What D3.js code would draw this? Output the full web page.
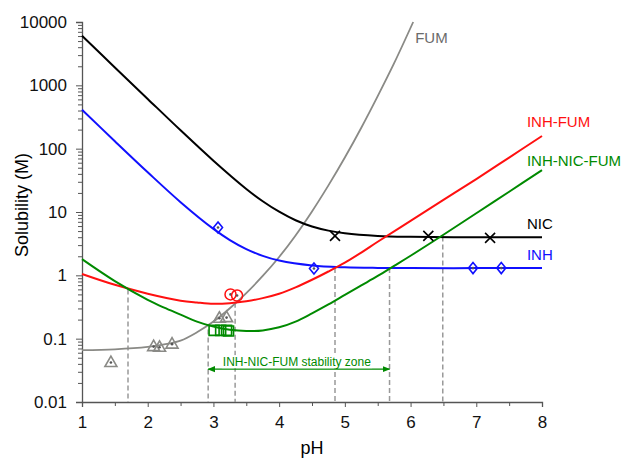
<!DOCTYPE html>
<html>
<head>
<meta charset="utf-8">
<script src="https://cdn.jsdelivr.net/npm/d3@7"></script>
<style>
  body { margin: 0; background: #fff; }
  svg { font-family: "Liberation Sans", Arial, sans-serif; }
</style>
</head>
<body>
<div id="chart"></div>
<script>
// curve values (pH, solubility in M)
const nicPH  = [1, 1.5, 2, 2.5, 3, 3.5, 3.75, 4, 4.25, 4.5, 4.75, 5, 5.5, 6, 7, 8];
const nicS   = [6060, 1918, 610, 195, 64.5, 23.1, 14.8, 10.1, 7.4, 5.9, 5.08, 4.6, 4.19, 4.06, 4.0, 4.0];
const inhPH  = [1, 1.5, 2, 2.5, 3, 3.25, 3.5, 3.75, 4, 4.5, 5, 5.5, 6, 7, 8];
const inhS   = [412, 131, 42.4, 14.3, 5.41, 3.61, 2.6, 2.03, 1.71, 1.43, 1.34, 1.31, 1.30, 1.3, 1.3];
const fumPH  = [1, 1.5, 2, 2.25, 2.5, 2.75, 3, 3.25, 3.5, 3.75, 4, 4.25, 4.5, 4.75, 5, 5.25, 5.5, 5.75, 6.04];
const fumS   = [0.066, 0.068, 0.074, 0.081, 0.093, 0.126, 0.186, 0.302, 0.525, 0.977, 1.95, 4.27, 10.2, 26.3, 72.4, 214, 676, 2239, 10000];
const ifPH   = [1, 1.5, 2, 2.5, 2.75, 3, 3.25, 3.5, 3.75, 4, 4.25, 4.5, 4.75, 5, 5.25, 5.5, 6, 6.5, 7, 7.5, 8];
const ifS    = [1.05, 0.708, 0.513, 0.398, 0.372, 0.355, 0.363, 0.389, 0.437, 0.513, 0.646, 0.851, 1.15, 1.585, 2.29, 3.39, 7.24, 15.5, 33.1, 72.4, 158.5];
const infPH  = [1, 1.5, 2, 2.25, 2.5, 2.75, 3, 3.25, 3.5, 3.75, 4, 4.25, 4.5, 4.75, 5, 5.25, 5.5, 5.75, 6, 6.5, 7, 7.5, 8];
const infS   = [1.8, 0.81, 0.41, 0.309, 0.24, 0.186, 0.155, 0.138, 0.132, 0.135, 0.151, 0.186, 0.251, 0.347, 0.49, 0.692, 0.977, 1.41, 2.04, 4.37, 9.55, 20.9, 45.7];

// measured points
const fumPts = [[1.44, 0.042], [2.09, 0.075], [2.18, 0.073], [2.37, 0.082], [3.09, 0.21], [3.2, 0.215]];
const inhPts = [[3.07, 5.7], [4.53, 1.28], [6.95, 1.3], [7.38, 1.3]];
const nicPts = [[4.85, 4.2], [6.27, 4.2], [7.21, 3.9]];
const ifPts  = [[3.26, 0.50], [3.36, 0.48]];
const infPts = [[3.01, 0.135], [3.11, 0.135], [3.2, 0.135], [3.23, 0.132]];

// dashed guide lines: pH and value where they start
const guidePH = [1.7, 2.92, 3.33, 4.85, 5.68, 6.49];
const guideS  = [0.6, 0.14, 0.37, 1.3, 1.3, 4.1];
const zonePH  = [2.92, 5.68];
const zoneLabel = "INH-NIC-FUM stability zone";

const yTicks = [0.01, 0.1, 1, 10, 100, 1000, 10000];
const xTicks = [1, 2, 3, 4, 5, 6, 7, 8];

const margin = { top: 22, right: 84, bottom: 56, left: 82 };
const width = 626 - margin.left - margin.right,
      height = 458 - margin.top - margin.bottom;

const svg = d3.select("#chart").append("svg")
    .attr("width", 626)
    .attr("height", 458)
  .append("g")
    .attr("transform", `translate(${margin.left},${margin.top})`);

const x = d3.scaleLinear().domain([1, 8]).range([0, width]);
const y = d3.scaleLog().domain([0.01, 10000]).range([height, 0]);

// y axis, major + minor ticks
const yMinor = [];
yTicks.slice(0, -1).forEach(t => { for (let k = 2; k <= 9; k++) yMinor.push(t * k); });

svg.append("g")
    .call(d3.axisLeft(y).tickValues(yMinor).tickSize(4).tickFormat(""))
    .call(g => g.select(".domain").remove())
    .selectAll("line").attr("stroke", "#555");

const yAxis = svg.append("g")
    .call(d3.axisLeft(y).tickValues(yTicks).tickSize(6).tickPadding(9)
      .tickFormat(d => d >= 1 ? d3.format("d")(d) : String(d)));
yAxis.select(".domain").attr("stroke", "#555").attr("stroke-width", 1.3);
yAxis.selectAll("line").attr("stroke", "#555");
yAxis.selectAll("text").attr("font-size", 17).attr("fill", "#111");

// x axis
const xMinor = d3.range(1.5, 8, 1);
svg.append("g")
    .attr("transform", `translate(0,${height})`)
    .call(d3.axisBottom(x).tickValues(xMinor).tickSize(4).tickFormat(""))
    .call(g => g.select(".domain").remove())
    .selectAll("line").attr("stroke", "#555");

const xAxis = svg.append("g")
    .attr("transform", `translate(0,${height})`)
    .call(d3.axisBottom(x).tickValues(xTicks).tickSize(5).tickPadding(9).tickFormat(d3.format("d")));
xAxis.select(".domain").attr("stroke", "#555").attr("stroke-width", 1.3);
xAxis.selectAll("line").attr("stroke", "#555");
xAxis.selectAll("text").attr("font-size", 17).attr("fill", "#111");

// axis titles
svg.append("text")
    .attr("x", width / 2)
    .attr("y", height + 52)
    .attr("text-anchor", "middle")
    .attr("font-size", 18)
    .text("pH");

svg.append("text")
    .attr("transform", `translate(${-54},${height / 2 - 7}) rotate(-90)`)
    .attr("text-anchor", "middle")
    .attr("font-size", 18)
    .text("Solubility (M)");

// dashed guides
guidePH.forEach((p, i) => {
  svg.append("line")
      .attr("x1", x(p)).attr("x2", x(p))
      .attr("y1", y(guideS[i])).attr("y2", height)
      .attr("stroke", "#999")
      .attr("stroke-width", 1.5)
      .attr("stroke-dasharray", "5,3");
});

// stability zone arrow + label
const green = "#008a00";
const zoneY = y(0.033);
const defs = svg.append("defs");
defs.append("marker")
    .attr("id", "arr")
    .attr("viewBox", "0 0 10 10")
    .attr("refX", 9).attr("refY", 5)
    .attr("markerWidth", 6).attr("markerHeight", 6)
    .attr("orient", "auto-start-reverse")
  .append("path")
    .attr("d", "M0,1L10,5L0,9Z")
    .attr("fill", green);

svg.append("line")
    .attr("x1", x(zonePH[0])).attr("x2", x(zonePH[1]))
    .attr("y1", zoneY).attr("y2", zoneY)
    .attr("stroke", green)
    .attr("stroke-width", 1.3)
    .attr("marker-start", "url(#arr)")
    .attr("marker-end", "url(#arr)");

const zoneText = svg.append("text")
    .attr("x", (x(zonePH[0]) + x(zonePH[1])) / 2 - 2)
    .attr("y", zoneY - 3)
    .attr("text-anchor", "middle")
    .attr("font-size", 12)
    .attr("fill", green)
    .text(zoneLabel);
const bb = zoneText.node().getBBox();
svg.insert("rect", () => zoneText.node())
    .attr("x", bb.x - 1).attr("y", bb.y)
    .attr("width", bb.width + 2).attr("height", bb.height - 1)
    .attr("fill", "#fff");

// curves
const line = d3.line()
    .x(d => x(d[0]))
    .y(d => y(d[1]))
    .curve(d3.curveCatmullRom.alpha(0.5));

const curves = [
  { ph: fumPH, s: fumS, color: "#8a8a86", w: 1.8 },
  { ph: nicPH, s: nicS, color: "#000", w: 2 },
  { ph: inhPH, s: inhS, color: "#1010ff", w: 2 },
  { ph: ifPH, s: ifS, color: "#ff1010", w: 2 },
  { ph: infPH, s: infS, color: green, w: 2 }
];
curves.forEach(c => {
  svg.append("path")
      .datum(c.ph.map((p, i) => [p, c.s[i]]))
      .attr("fill", "none")
      .attr("stroke", c.color)
      .attr("stroke-width", c.w)
      .attr("d", line);
});

// markers
const tri = "M0,-6.5L6,4L-6,4Z";
const dia = "M0,-5.5L4.5,0L0,5.5L-4.5,0Z";
const cross = "M-5,-5L5,5M-5,5L5,-5";
const sq = "M-5,-5H5V5H-5Z";

function drawPts(pts, path, color, dot) {
  pts.forEach(d => {
    const g = svg.append("g").attr("transform", `translate(${x(d[0])},${y(d[1])})`);
    if (path === "circle") {
      g.append("circle").attr("r", 5.5).attr("fill", "none").attr("stroke", color).attr("stroke-width", 1.5);
    } else {
      g.append("path").attr("d", path).attr("fill", "none").attr("stroke", color).attr("stroke-width", 1.6);
    }
    if (dot) g.append("circle").attr("r", 1.3).attr("fill", "#555");
  });
}
drawPts(fumPts, tri, "#8a8a86", true);
drawPts(infPts, sq, green, false);
drawPts(ifPts, "circle", "#ff1010", true);
drawPts(inhPts, dia, "#1010ff", true);
drawPts(nicPts, cross, "#000", false);

// curve labels
const labels = [
  { t: "FUM", px: 6.07, s: 4650, c: "#6b6b6b" },
  { t: "INH-FUM", px: 7.77, s: 219, c: "#ff1010" },
  { t: "INH-NIC-FUM", px: 7.77, s: 53, c: green },
  { t: "NIC", px: 7.77, s: 5.4, c: "#000" },
  { t: "INH", px: 7.77, s: 1.74, c: "#1010ff" }
];
labels.forEach(l => {
  svg.append("text")
      .attr("x", x(l.px))
      .attr("y", y(l.s))
      .attr("font-size", 15)
      .attr("fill", l.c)
      .text(l.t);
});
</script>
</body>
</html>
